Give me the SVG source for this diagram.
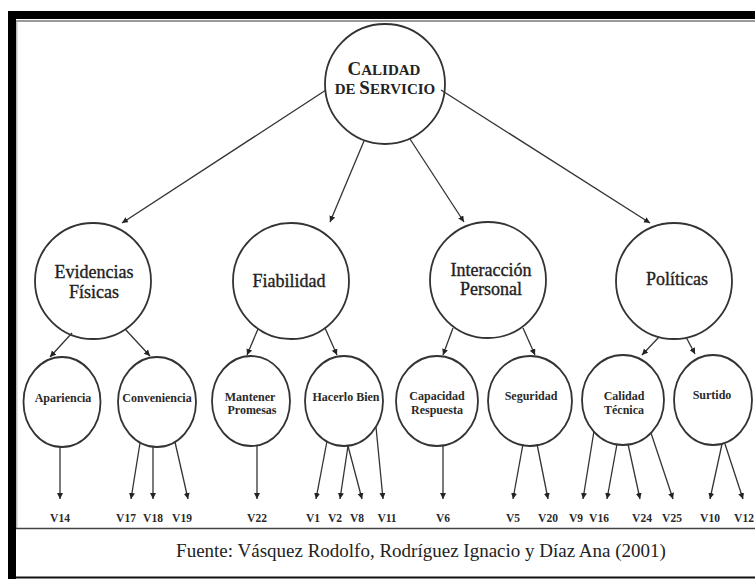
<svg xmlns="http://www.w3.org/2000/svg" width="755" height="579" viewBox="0 0 755 579">
<style>
.nd{fill:none;stroke:#333;stroke-width:1.8}
.t2{font-family:"Liberation Serif",serif;font-size:18px;fill:#222;stroke:#222;stroke-width:0.35;text-anchor:middle}
.t3{font-family:"Liberation Serif",serif;font-size:12px;font-weight:bold;fill:#2a2a2a;text-anchor:middle}
.tl{font-family:"Liberation Serif",serif;font-size:11.5px;font-weight:bold;fill:#2a2a2a;text-anchor:middle}
.tr{font-family:"Liberation Serif",serif;font-weight:bold;fill:#222;text-anchor:middle}
.cn line{stroke:#333;stroke-width:1.3;marker-end:url(#ah)}
</style>
<defs>
<marker id="ah" markerWidth="8" markerHeight="8" refX="6" refY="3" orient="auto" markerUnits="userSpaceOnUse">
<path d="M0,0 L6,3 L0,6 Z" fill="#222"/>
</marker>
</defs>
<rect x="0" y="0" width="755" height="579" fill="#fff"/>
<g id="frame">
<rect x="8" y="11" width="747" height="8" fill="#000"/>
<rect x="8" y="11" width="8" height="568" fill="#000"/>
<rect x="16" y="20" width="739" height="2" fill="#999"/>
<rect x="16" y="22" width="1.5" height="506" fill="#bbb"/>
<line x1="16" y1="528.5" x2="755" y2="528.5" stroke="#444" stroke-width="1.5"/>
<line x1="16" y1="577.5" x2="755" y2="577.5" stroke="#111" stroke-width="2"/>
</g>
<g class="cn" id="connectors">
<line x1="326" y1="90" x2="122" y2="223"/>
<line x1="364" y1="141" x2="330" y2="222"/>
<line x1="410" y1="139" x2="464" y2="222"/>
<line x1="441" y1="90" x2="650" y2="223"/>
<line x1="72" y1="333" x2="50" y2="357"/>
<line x1="125" y1="329" x2="150" y2="356"/>
<line x1="258" y1="329" x2="247" y2="355"/>
<line x1="325" y1="328" x2="337" y2="355"/>
<line x1="453" y1="328" x2="443" y2="355"/>
<line x1="523" y1="328" x2="535" y2="355"/>
<line x1="659" y1="337" x2="642" y2="355"/>
<line x1="686" y1="337" x2="695" y2="354"/>
<line x1="60" y1="446" x2="60" y2="499"/>
<line x1="140" y1="443" x2="131" y2="499"/>
<line x1="153" y1="446" x2="153" y2="499"/>
<line x1="175" y1="442" x2="188" y2="499"/>
<line x1="257" y1="446" x2="257" y2="499"/>
<line x1="327" y1="441" x2="316" y2="499"/>
<line x1="348" y1="446" x2="340" y2="499"/>
<line x1="348" y1="446" x2="362" y2="499"/>
<line x1="376" y1="427" x2="383" y2="499"/>
<line x1="443" y1="446" x2="443" y2="499"/>
<line x1="523" y1="444" x2="513" y2="499"/>
<line x1="537" y1="444" x2="548" y2="499"/>
<line x1="594" y1="431" x2="583" y2="499"/>
<line x1="617" y1="444" x2="607" y2="499"/>
<line x1="628" y1="444" x2="640" y2="499"/>
<line x1="651" y1="433" x2="673" y2="499"/>
<line x1="722" y1="444" x2="710" y2="499"/>
<line x1="725" y1="444" x2="743" y2="499"/>
</g>
<g id="root">
<circle class="nd" cx="385" cy="84" r="60"/>
<text class="tr" x="384" y="75" font-size="15"><tspan font-size="19">C</tspan>ALIDAD</text>
<text class="tr" x="385" y="94" font-size="15">DE <tspan font-size="19">S</tspan>ERVICIO</text>
</g>
<g id="evidencias">
<circle class="nd" cx="93" cy="281" r="58"/>
<text class="t2" x="94" y="278">Evidencias</text>
<text class="t2" x="94" y="298">Físicas</text>
</g>
<g id="fiabilidad">
<circle class="nd" cx="291" cy="281" r="58"/>
<text class="t2" x="289" y="287">Fiabilidad</text>
</g>
<g id="interaccion">
<circle class="nd" cx="488" cy="280" r="58"/>
<text class="t2" x="491" y="276">Interacción</text>
<text class="t2" x="491" y="295">Personal</text>
</g>
<g id="politicas">
<circle class="nd" cx="674" cy="281" r="58"/>
<text class="t2" x="677" y="285">Políticas</text>
</g>
<g id="apariencia">
<ellipse class="nd" cx="62" cy="402" rx="38.5" ry="45"/>
<text class="t3" x="63" y="402">Apariencia</text>
</g>
<g id="conveniencia">
<ellipse class="nd" cx="157" cy="402" rx="39" ry="45"/>
<text class="t3" x="157" y="402">Conveniencia</text>
</g>
<g id="mantener">
<ellipse class="nd" cx="251" cy="401" rx="39" ry="45"/>
<text class="t3" x="250" y="401">Mantener</text>
<text class="t3" x="252" y="414">Promesas</text>
</g>
<g id="hacerlo">
<ellipse class="nd" cx="344" cy="401" rx="39" ry="45"/>
<text class="t3" x="346" y="401">Hacerlo Bien</text>
</g>
<g id="capacidad">
<ellipse class="nd" cx="437" cy="401" rx="41" ry="45"/>
<text class="t3" x="437" y="400">Capacidad</text>
<text class="t3" x="437" y="414">Respuesta</text>
</g>
<g id="seguridad">
<ellipse class="nd" cx="530" cy="401" rx="42" ry="45"/>
<text class="t3" x="531" y="400">Seguridad</text>
</g>
<g id="calidadtecnica">
<ellipse class="nd" cx="623" cy="400" rx="41" ry="45"/>
<text class="t3" x="624" y="400">Calidad</text>
<text class="t3" x="624" y="414">Técnica</text>
</g>
<g id="surtido">
<ellipse class="nd" cx="713" cy="400" rx="39" ry="45"/>
<text class="t3" x="712" y="399">Surtido</text>
</g>
<g id="leaves">
<text class="tl" x="60" y="522">V14</text>
<text class="tl" x="126" y="522">V17</text>
<text class="tl" x="153" y="522">V18</text>
<text class="tl" x="182" y="522">V19</text>
<text class="tl" x="257" y="522">V22</text>
<text class="tl" x="313" y="522">V1</text>
<text class="tl" x="335" y="522">V2</text>
<text class="tl" x="357" y="522">V8</text>
<text class="tl" x="387" y="522">V11</text>
<text class="tl" x="443" y="522">V6</text>
<text class="tl" x="513" y="522">V5</text>
<text class="tl" x="548" y="522">V20</text>
<text class="tl" x="576" y="522">V9</text>
<text class="tl" x="599" y="522">V16</text>
<text class="tl" x="642" y="522">V24</text>
<text class="tl" x="672" y="522">V25</text>
<text class="tl" x="710" y="522">V10</text>
<text class="tl" x="744" y="522">V12</text>
</g>
<text x="421" y="557" font-family="Liberation Serif, serif" font-size="19" fill="#222" text-anchor="middle">Fuente: Vásquez Rodolfo, Rodríguez Ignacio y Díaz Ana (2001)</text>
</svg>
